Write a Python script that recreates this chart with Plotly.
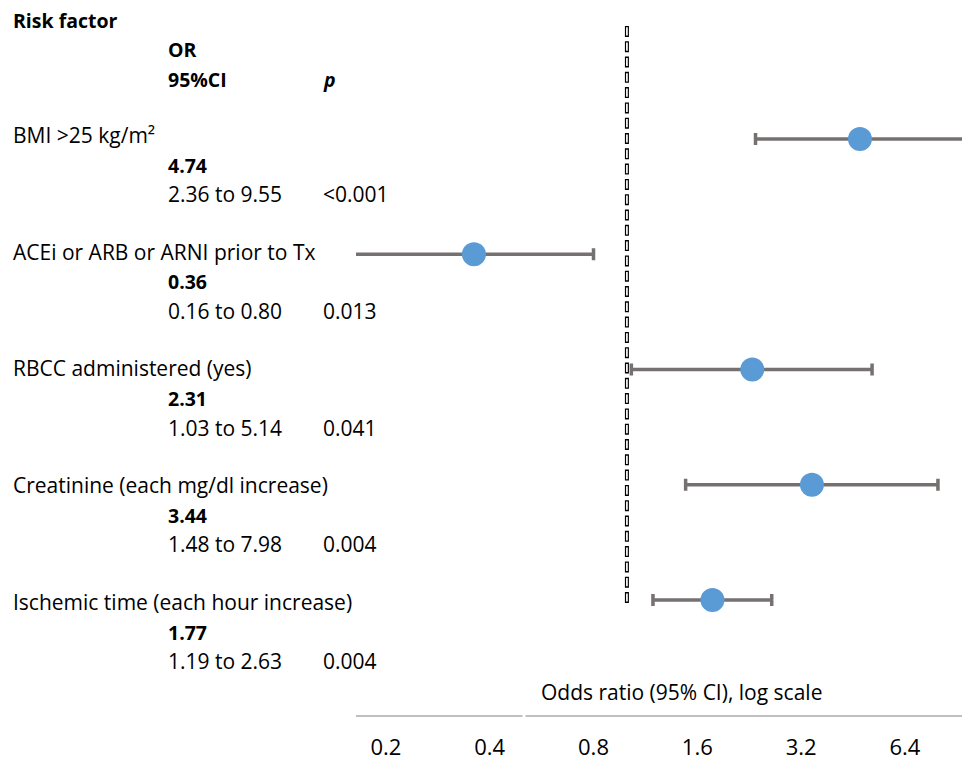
import math
import plotly.graph_objects as go

# ---- data ----
factors = [
    "BMI >25 kg/m²",
    "ACEi or ARB or ARNI prior to Tx",
    "RBCC administered (yes)",
    "Creatinine (each mg/dl increase)",
    "Ischemic time (each hour increase)",
]
odds_ratio = [4.74, 0.36, 2.31, 3.44, 1.77]
ci_low = [2.36, 0.16, 1.03, 1.48, 1.19]
ci_high = [9.55, 0.80, 5.14, 7.98, 2.63]
p_values = ["<0.001", "0.013", "0.041", "0.004", "0.004"]
tick_vals = [0.2, 0.4, 0.8, 1.6, 3.2, 6.4]
tick_text = ["0.2", "0.4", "0.8", "1.6", "3.2", "6.4"]
reference_or = 1

# ---- layout constants (pixels) ----
W, H = 962, 761
PLOT_BOTTOM = 715
ROW0, ROW_STEP = 139, 115.25
TEXT0, TEXT_STEP = 135, 116.75
FONT = "'Open Sans', Lato, sans-serif"
TXT = "#000000"
REG, BOLD = 21, 19.5


def py(pix):
    return 1 - pix / PLOT_BOTTOM


def px(pix):
    return pix / W


rows = list(range(len(factors)))
fig = go.Figure()

fig.add_trace(go.Scatter(
    x=odds_ratio, y=rows, mode="markers",
    marker=dict(size=24, color="#5B9BD5"),
    error_x=dict(type="data", symmetric=False,
                 array=[h - o for h, o in zip(ci_high, odds_ratio)],
                 arrayminus=[o - l for o, l in zip(odds_ratio, ci_low)],
                 color="#767171", thickness=3.5, width=6),
    showlegend=False, hoverinfo="skip",
))

ann = []


def add_text(x, ypix, text, size):
    ann.append(dict(x=px(x), y=py(ypix), xref="paper", yref="paper",
                    text=text, showarrow=False, xanchor="left", yanchor="middle",
                    xshift=-1,
                    font=dict(family=FONT, size=size, color=TXT)))


add_text(12, 20, "<b>Risk factor</b>", BOLD)
add_text(167, 50, "<b>OR</b>", BOLD)
add_text(167, 80, "<b>95%CI</b>", BOLD)
add_text(322, 80, "<b><i>p</i></b>", BOLD)

for i, (f, o, lo, hi, p) in enumerate(zip(factors, odds_ratio, ci_low, ci_high, p_values)):
    base = TEXT0 + TEXT_STEP * i
    add_text(12, base, f, REG)
    add_text(167, base + 30, f"<b>{o:.2f}</b>", BOLD)
    add_text(167, base + 59, f"{lo:.2f} to {hi:.2f}", REG)
    add_text(322, base + 59, p, REG)

ann.append(dict(x=px(681), y=py(692), xref="paper", yref="paper",
                text="Odds ratio (95% CI), log scale", showarrow=False,
                xanchor="center", yanchor="middle",
                font=dict(family=FONT, size=21, color=TXT)))

shapes = [
    # hollow dashed reference line at OR = 1
    dict(type="line", xref="x", yref="paper", x0=reference_or, x1=reference_or,
         y0=py(603), y1=py(23), line=dict(color="#000000", width=4, dash="11px,4.3px")),
    dict(type="line", xref="x", yref="paper", x0=reference_or, x1=reference_or,
         y0=py(603), y1=py(23), line=dict(color="#FFFFFF", width=1.7, dash="0px,1.4px,8.2px,5.7px")),
    # small break in the axis line
    dict(type="rect", xref="paper", yref="paper", x0=px(522.5), x1=px(525.5),
         y0=py(718), y1=py(712), line=dict(width=0), fillcolor="white", layer="above"),
]

fig.update_layout(
    width=W, height=H,
    margin=dict(l=0, r=0, t=0, b=H - PLOT_BOTTOM, pad=0, autoexpand=False),
    paper_bgcolor="white", plot_bgcolor="white",
    annotations=ann, shapes=shapes,
    xaxis=dict(type="log", domain=[356 / W, 1], automargin=False,
               range=[math.log10(0.1638), math.log10(9.37)],
               tickvals=tick_vals, ticktext=tick_text, ticks="",
               showline=True, linecolor="#BFBFBF", linewidth=2,
               showgrid=False, zeroline=False,
               tickfont=dict(family=FONT, size=22, color=TXT),
               ticklabelstandoff=12),
    yaxis=dict(range=[(PLOT_BOTTOM - ROW0) / ROW_STEP, -ROW0 / ROW_STEP],
               visible=False, showgrid=False, zeroline=False, automargin=False),
)

fig.write_html("out.html", config={"displayModeBar": False})

# remove the browser's default page margin so the figure sits at (0, 0)
with open("out.html", "r", encoding="utf-8") as fh:
    html = fh.read()
html = html.replace("<head>", "<head><style>html,body{margin:0;padding:0;overflow:hidden;}</style>", 1)
with open("out.html", "w", encoding="utf-8") as fh:
    fh.write(html)
